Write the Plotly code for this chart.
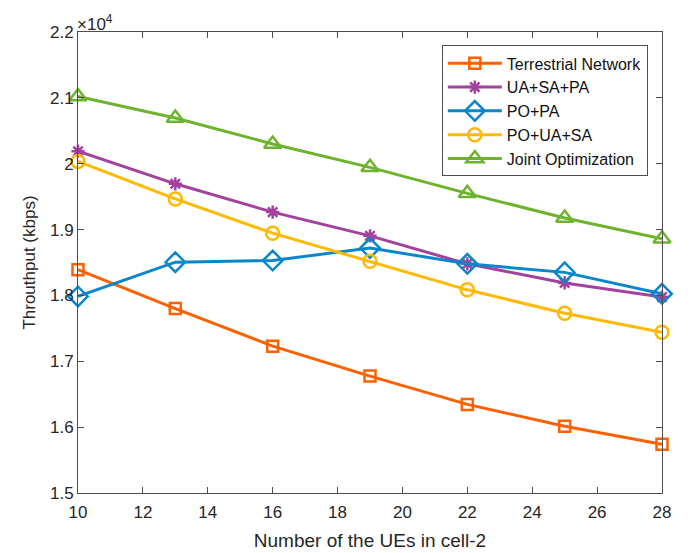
import plotly.graph_objects as go

# Number of UEs in cell-2
ues = [10, 13, 16, 19, 22, 25, 28]

# Throughput (kbps) for each scheme
terrestrial = [18390, 17800, 17230, 16775, 16345, 16015, 15740]
ua_sa_pa = [20190, 19695, 19265, 18905, 18480, 18190, 17975]
po_pa = [17985, 18505, 18530, 18720, 18480, 18350, 18025]
po_ua_sa = [20035, 19465, 18945, 18520, 18085, 17730, 17440]
joint = [21020, 20695, 20300, 19945, 19550, 19175, 18860]

y_ticks = [15000, 16000, 17000, 18000, 19000, 20000, 21000, 22000]
y_tick_text = [f"{v / 1e4:g}" for v in y_ticks]
x_ticks = list(range(10, 29, 2))

series = [
    ("Terrestrial Network", terrestrial, "#FF6100", "square-open", 11),
    ("UA+SA+PA", ua_sa_pa, "#A2429E", "asterisk-open", 11),
    ("PO+PA", po_pa, "#0A86CB", "diamond-open", 15),
    ("PO+UA+SA", po_ua_sa, "#FFB900", "circle-open", 13),
    ("Joint Optimization", joint, "#6DB32E", "triangle-up-open", 15),
]

fig = go.Figure()
for name, vals, color, sym, size in series:
    fig.add_trace(go.Scatter(
        x=ues, y=vals, name=name, mode="lines+markers",
        line=dict(color=color, width=3),
        marker=dict(symbol=sym, size=size, color=color,
                    line=dict(color=color, width=2.5)),
        cliponaxis=False,
    ))

axis_common = dict(
    showline=True, linecolor="#4d4d4d", linewidth=1, mirror="ticks",
    ticks="inside", ticklen=6, tickcolor="#4d4d4d", tickwidth=1,
    showgrid=False, zeroline=False, automargin=False,
    tickfont=dict(family="Liberation Sans, Arial", size=17, color="#262626"),
)

fig.update_layout(
    width=699, height=553,
    margin=dict(l=78, r=37, t=32, b=60),
    paper_bgcolor="white", plot_bgcolor="white",
    font=dict(family="Liberation Sans, Arial", size=16, color="#262626"),
    xaxis=dict(
        range=[10, 28], tickvals=x_ticks, ticklabelstandoff=4,
        title=dict(text="Number of the UEs in cell-2", standoff=12,
                   font=dict(size=19, color="#262626")),
        **axis_common,
    ),
    yaxis=dict(
        range=[15000, 22000], tickvals=y_ticks, ticktext=y_tick_text,
        title=dict(text="Throuthput (kbps)", standoff=10,
                   font=dict(size=17, color="#262626")),
        **axis_common,
    ),
    legend=dict(
        x=0.623, y=0.971, xanchor="left", yanchor="top",
        bgcolor="white", bordercolor="#4d4d4d", borderwidth=1,
        font=dict(size=16, color="#111111"),
        tracegroupgap=0, itemwidth=54,
    ),
    showlegend=True,
)

fig.add_annotation(
    x=0, y=1, xref="paper", yref="paper", xanchor="left", yanchor="bottom",
    text="×10<sup>4</sup>", showarrow=False,
    font=dict(size=17, color="#262626"), xshift=-3, yshift=-4,
)

fig.write_html("out.html")
